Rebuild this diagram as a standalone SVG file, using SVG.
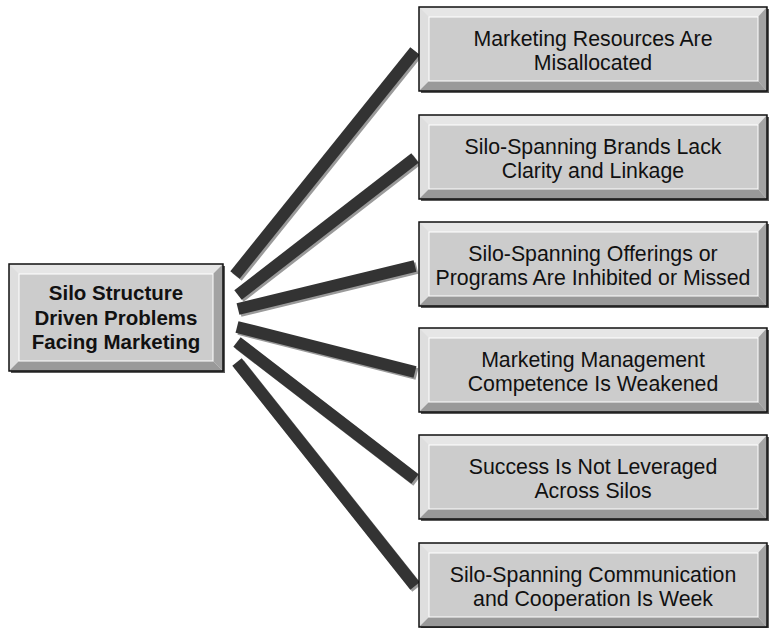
<svg xmlns="http://www.w3.org/2000/svg" width="772" height="628" viewBox="0 0 772 628">
<defs>
<style>
.sh{fill:#5a5a5a}
.out{fill:#e6e6e6}
.lb{fill:#dedede}
.bb{fill:#999999}
.rb{fill:#a3a3a3}
.face{fill:#cccccc;stroke:#ffffff;stroke-width:1}
.brd{fill:none;stroke:#111111;stroke-width:1.5}
.t{font-family:"Liberation Sans",Arial,sans-serif;font-size:21.3px;fill:#111111;text-anchor:middle}
.tb{font-family:"Liberation Sans",Arial,sans-serif;font-size:20.5px;font-weight:bold;fill:#111111;text-anchor:middle}
.bar{stroke:#333333;stroke-width:12;stroke-linecap:butt;fill:none}
.bars{stroke:#9a9a9a;stroke-width:12;stroke-linecap:butt;fill:none}
</style>
</defs>
<rect width="772" height="628" fill="#ffffff"/>
<g id="connectors">
<g transform="translate(2,2)">
<line class="bars" x1="235" y1="275" x2="415" y2="51"/>
<line class="bars" x1="238" y1="295" x2="415" y2="158"/>
<line class="bars" x1="238" y1="309" x2="415" y2="266"/>
<line class="bars" x1="237" y1="327" x2="415" y2="372"/>
<line class="bars" x1="237" y1="342" x2="415" y2="479"/>
<line class="bars" x1="237" y1="362" x2="415" y2="586"/>
</g>
<line class="bar" x1="235" y1="275" x2="415" y2="51"/>
<line class="bar" x1="238" y1="295" x2="415" y2="158"/>
<line class="bar" x1="238" y1="309" x2="415" y2="266"/>
<line class="bar" x1="237" y1="327" x2="415" y2="372"/>
<line class="bar" x1="237" y1="342" x2="415" y2="479"/>
<line class="bar" x1="237" y1="362" x2="415" y2="586"/>
</g>
<g id="center">
<rect class="sh" x="11" y="266" width="214" height="107"/>
<rect class="out" x="9" y="264" width="214" height="107"/>
<polygon class="lb" points="9,264 19,274 19,361 9,371"/>
<polygon class="bb" points="9,371 19,361 213,361 223,371"/>
<polygon class="rb" points="223,264 213,274 213,361 223,371"/>
<rect class="face" x="19" y="274" width="194" height="87"/>
<rect class="brd" x="9" y="264" width="214" height="107"/>
<text class="tb" x="116" y="300">Silo Structure</text>
<text class="tb" x="116" y="324.5">Driven Problems</text>
<text class="tb" x="116" y="349">Facing Marketing</text>
</g>
<g id="n1" transform="translate(419,7)">
<rect class="sh" x="2" y="2" width="348" height="84"/>
<rect class="out" x="0" y="0" width="348" height="84"/>
<polygon class="lb" points="0,0 10,10 10,74 0,84"/>
<polygon class="bb" points="0,84 10,74 339,74 348,84"/>
<polygon class="rb" points="348,0 339,10 339,74 348,84"/>
<rect class="face" x="10" y="10" width="329" height="64"/>
<rect class="brd" x="0" y="0" width="348" height="84"/>
<text class="t" x="174" y="39">Marketing Resources Are</text>
<text class="t" x="174" y="63">Misallocated</text>
</g>
<g id="n2" transform="translate(419,115)">
<rect class="sh" x="2" y="2" width="348" height="84"/>
<rect class="out" x="0" y="0" width="348" height="84"/>
<polygon class="lb" points="0,0 10,10 10,74 0,84"/>
<polygon class="bb" points="0,84 10,74 339,74 348,84"/>
<polygon class="rb" points="348,0 339,10 339,74 348,84"/>
<rect class="face" x="10" y="10" width="329" height="64"/>
<rect class="brd" x="0" y="0" width="348" height="84"/>
<text class="t" x="174" y="39">Silo-Spanning Brands Lack</text>
<text class="t" x="174" y="63">Clarity and Linkage</text>
</g>
<g id="n3" transform="translate(419,222)">
<rect class="sh" x="2" y="2" width="348" height="84"/>
<rect class="out" x="0" y="0" width="348" height="84"/>
<polygon class="lb" points="0,0 10,10 10,74 0,84"/>
<polygon class="bb" points="0,84 10,74 339,74 348,84"/>
<polygon class="rb" points="348,0 339,10 339,74 348,84"/>
<rect class="face" x="10" y="10" width="329" height="64"/>
<rect class="brd" x="0" y="0" width="348" height="84"/>
<text class="t" x="174" y="39">Silo-Spanning Offerings or</text>
<text class="t" x="174" y="62.5">Programs Are Inhibited or Missed</text>
</g>
<g id="n4" transform="translate(419,328)">
<rect class="sh" x="2" y="2" width="348" height="84"/>
<rect class="out" x="0" y="0" width="348" height="84"/>
<polygon class="lb" points="0,0 10,10 10,74 0,84"/>
<polygon class="bb" points="0,84 10,74 339,74 348,84"/>
<polygon class="rb" points="348,0 339,10 339,74 348,84"/>
<rect class="face" x="10" y="10" width="329" height="64"/>
<rect class="brd" x="0" y="0" width="348" height="84"/>
<text class="t" x="174" y="39">Marketing Management</text>
<text class="t" x="174" y="63">Competence Is Weakened</text>
</g>
<g id="n5" transform="translate(419,435)">
<rect class="sh" x="2" y="2" width="348" height="84"/>
<rect class="out" x="0" y="0" width="348" height="84"/>
<polygon class="lb" points="0,0 10,10 10,74 0,84"/>
<polygon class="bb" points="0,84 10,74 339,74 348,84"/>
<polygon class="rb" points="348,0 339,10 339,74 348,84"/>
<rect class="face" x="10" y="10" width="329" height="64"/>
<rect class="brd" x="0" y="0" width="348" height="84"/>
<text class="t" x="174" y="39">Success Is Not Leveraged</text>
<text class="t" x="174" y="63">Across Silos</text>
</g>
<g id="n6" transform="translate(419,543)">
<rect class="sh" x="2" y="2" width="348" height="84"/>
<rect class="out" x="0" y="0" width="348" height="84"/>
<polygon class="lb" points="0,0 10,10 10,74 0,84"/>
<polygon class="bb" points="0,84 10,74 339,74 348,84"/>
<polygon class="rb" points="348,0 339,10 339,74 348,84"/>
<rect class="face" x="10" y="10" width="329" height="64"/>
<rect class="brd" x="0" y="0" width="348" height="84"/>
<text class="t" x="174" y="39">Silo-Spanning Communication</text>
<text class="t" x="174" y="63">and Cooperation Is Week</text>
</g>
</svg>
